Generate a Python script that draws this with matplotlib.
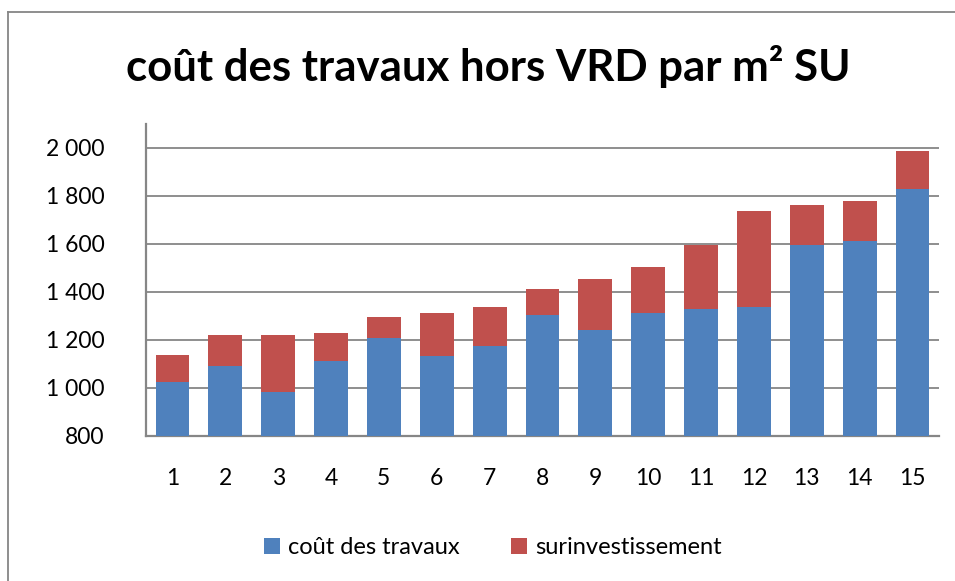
import matplotlib.pyplot as plt
import numpy as np

# data
categories = [str(i) for i in range(1, 16)]
cout_travaux = [1026, 1093, 985, 1111, 1210, 1135, 1176, 1303, 1243, 1311, 1328, 1336, 1594, 1611, 1828]
surinvest = [110, 126, 234, 117, 84, 176, 160, 108, 210, 193, 266, 402, 167, 167, 159]
yticks = [800, 1000, 1200, 1400, 1600, 1800, 2000]

plt.rcParams['font.family'] = ['Lato', 'DejaVu Sans']

W, H = 955, 581
fig = plt.figure(figsize=(W / 100, H / 100), dpi=100)
ax = fig.add_axes([146 / W, 1 - 436 / H, (939 - 146) / W, (436 - 124) / H])

grey = '#868686'
x = np.arange(1, len(categories) + 1)
base = 800
blue = np.array(cout_travaux)
red = np.array(surinvest)
ax.bar(x, blue - base, bottom=base, width=0.64, color='#4F81BD', label='coût des travaux', zorder=3)
ax.bar(x, red, bottom=blue, width=0.64, color='#C0504D', label='surinvestissement', zorder=3)

ax.set_xlim(0.5, 15.5)
ax.set_ylim(800, 2100)
ax.set_yticks(yticks)
ax.set_yticklabels([f'{v:,}'.replace(',', ' ') for v in yticks])
ax.set_xticks(x)
ax.set_xticklabels(categories)
ax.tick_params(axis='both', length=0, labelsize=16.5)
ax.tick_params(axis='y', pad=30)
ax.tick_params(axis='x', pad=23)
ax.yaxis.grid(True, color=grey, linewidth=1.3, zorder=0)
ax.set_axisbelow(True)
for s in ['top', 'right']:
    ax.spines[s].set_visible(False)
for s in ['left', 'bottom']:
    ax.spines[s].set_color(grey)
    ax.spines[s].set_linewidth(1.6)

fig.text(488 / W, 1 - 67 / H, 'coût des travaux hors VRD par m² SU',
         ha='center', va='center', fontsize=31.5, fontweight='bold')

fig.legend(loc='center', bbox_to_anchor=(493 / W, 1 - 548 / H), ncol=2, frameon=False,
           fontsize=17, handlelength=0.65, handleheight=0.65, handletextpad=0.35,
           columnspacing=2.2)

# outer chart border (cut off at right and bottom)
fig.add_artist(plt.Line2D([8 / W, 8 / W], [0, 1 - 12 / H], transform=fig.transFigure, color=grey, lw=1.3))
fig.add_artist(plt.Line2D([8 / W, 1], [1 - 12 / H, 1 - 12 / H], transform=fig.transFigure, color=grey, lw=1.3))

fig.savefig('out.png', dpi=100)
